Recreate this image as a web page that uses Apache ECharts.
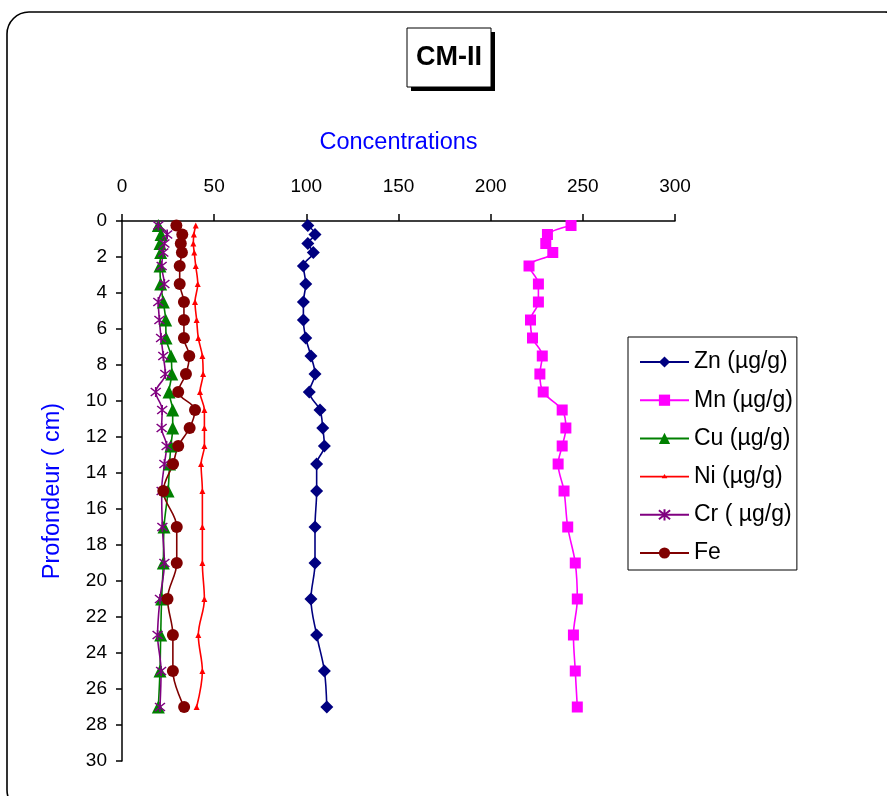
<!DOCTYPE html>
<html>
<head>
<meta charset="utf-8">
<script src="https://cdn.jsdelivr.net/npm/echarts@6/dist/echarts.min.js"></script>
<style>html,body{margin:0;padding:0;background:#fff;}#c{width:887px;height:796px;}</style>
</head>
<body>
<div id="c"></div>
<script>
const depth = [0.25, 0.75, 1.25, 1.75, 2.5, 3.5, 4.5, 5.5, 6.5, 7.5, 8.5, 9.5, 10.5, 11.5, 12.5, 13.5, 15, 17, 19, 21, 23, 25, 27];
const zn = [100.8, 104.7, 100.8, 103.8, 98.4, 99.7, 98.4, 98.4, 99.7, 102.5, 104.7, 101.6, 107.4, 108.9, 109.8, 105.6, 105.6, 104.7, 104.7, 102.5, 105.6, 109.8, 111.1];
const mn = [243.6, 230.8, 229.9, 233.7, 220.8, 225.9, 225.9, 221.6, 222.7, 228.0, 226.7, 228.5, 238.8, 240.8, 238.8, 236.6, 239.8, 241.8, 245.9, 247.0, 244.9, 245.9, 247.0];
const cu = [19.7, 21.2, 20.6, 21.0, 20.6, 21.0, 22.4, 23.7, 23.9, 26.6, 27.0, 25.5, 27.5, 27.5, 26.5, 25.8, 25.0, 22.8, 22.4, 21.5, 21.0, 20.6, 19.7];
const ni = [40.0, 39.0, 38.7, 39.2, 40.0, 41.1, 39.6, 40.5, 41.4, 43.6, 44.0, 42.3, 44.7, 44.7, 44.7, 42.9, 43.6, 43.6, 43.6, 44.7, 41.4, 43.6, 40.5];
const cr = [19.7, 24.5, 23.0, 22.4, 21.5, 23.0, 19.7, 20.3, 21.2, 22.4, 23.5, 18.3, 21.8, 21.5, 24.2, 23.0, 21.5, 21.9, 23.0, 20.6, 19.3, 21.2, 20.6];
const fe = [29.5, 32.7, 31.9, 32.5, 31.3, 31.3, 33.6, 33.6, 33.6, 36.5, 34.7, 30.5, 39.6, 36.7, 30.5, 27.7, 22.4, 29.7, 29.7, 24.7, 27.6, 27.6, 33.7];
const names = ['Zn (µg/g)', 'Mn (µg/g)', 'Cu (µg/g)', 'Ni (µg/g)', 'Cr ( µg/g)', 'Fe'];

const pair = arr => arr.map((v, i) => [v, depth[i]]);
const FONT = 'Liberation Sans, Arial, sans-serif';
const asterisk = 'path://M5,0L5,10M1,1L9,9M9,1L1,9';
// legend icon for Ni: thin line with a tiny triangle, in a 49x14 box
const niIcon = 'path://M0,0L0.01,0L0,0.01Z M49,14L48.99,14L49,13.99Z M0,6.2L49,6.2L49,7.8L0,7.8Z M24.5,4.3L27.3,8.7L21.7,8.7Z';

function mk(name, arr, color, symbol, size, extra) {
  return Object.assign({
    name: name, type: 'line', data: pair(arr), smooth: 0.35,
    symbol: symbol, symbolSize: size,
    lineStyle: { color: color, width: 1.6 },
    itemStyle: { color: color },
    z: 3
  }, extra || {});
}

const chart = echarts.init(document.getElementById('c'), null, { renderer: 'canvas' });
chart.setOption({
  animation: false,
  backgroundColor: '#fff',
  textStyle: { fontFamily: FONT },
  graphic: [
    { type: 'rect', shape: { x: 7, y: 12, width: 900, height: 800, r: 22 }, style: { fill: 'none', stroke: '#000', lineWidth: 1.6 }, z: 0 },
    { type: 'rect', shape: { x: 411, y: 32, width: 84, height: 59 }, style: { fill: '#000' }, z: 10 },
    { type: 'rect', shape: { x: 407, y: 28, width: 84, height: 59 }, style: { fill: '#fff', stroke: '#000', lineWidth: 1 }, z: 11 },
    { type: 'text', x: 449, y: 58, style: { text: 'CM-II', fontFamily: FONT, fontWeight: 'bold', fontSize: 27, fill: '#000', align: 'center', verticalAlign: 'middle' }, z: 12 }
  ],
  grid: { left: 122, right: 212, top: 221, bottom: 35, containLabel: false },
  legend: {
    orient: 'vertical', left: 628, top: 337,
    data: [
      { name: names[0] }, { name: names[1] }, { name: names[2] },
      { name: names[3], icon: niIcon, itemStyle: { color: '#ff0000' } },
      { name: names[4] }, { name: names[5] }
    ],
    backgroundColor: '#fff', borderColor: '#000', borderWidth: 1,
    padding: [13, 4, 5, 11],
    itemWidth: 49, itemHeight: 14, itemGap: 14.2,
    textStyle: { fontFamily: FONT, fontSize: 23, color: '#000', lineHeight: 24 }
  },
  xAxis: {
    type: 'value', position: 'top', min: 0, max: 300, interval: 50,
    name: 'Concentrations', nameLocation: 'middle', nameGap: 66,
    nameTextStyle: { color: '#0000ff', fontSize: 23.5, fontFamily: FONT },
    axisLine: { show: true, lineStyle: { color: '#000', width: 1.5 } },
    axisTick: { show: true, inside: false, length: 7, lineStyle: { color: '#000', width: 1.5 } },
    axisLabel: { color: '#000', fontSize: 19, fontFamily: FONT, margin: 25 },
    splitLine: { show: false }
  },
  yAxis: {
    type: 'value', inverse: true, min: 0, max: 30, interval: 2,
    name: 'Profondeur ( cm)', nameLocation: 'middle', nameGap: 57, nameRotate: 90,
    nameTextStyle: { color: '#0000ff', fontSize: 23.5, fontFamily: FONT },
    axisLine: { show: true, onZero: false, lineStyle: { color: '#000', width: 1.5 } },
    axisTick: { show: true, inside: false, length: 6, lineStyle: { color: '#000', width: 1.5 } },
    axisLabel: { color: '#000', fontSize: 19, fontFamily: FONT, margin: 15 },
    splitLine: { show: false }
  },
  series: [
    mk(names[0], zn, '#000080', 'diamond', 13),
    mk(names[1], mn, '#ff00ff', 'rect', 11),
    mk(names[2], cu, '#008000', 'triangle', 13),
    mk(names[3], ni, '#ff0000', 'triangle', 6),
    mk(names[4], cr, '#800080', asterisk, 10, { itemStyle: { color: '#800080', borderColor: '#800080', borderWidth: 1.6 } }),
    mk(names[5], fe, '#800000', 'circle', 12)
  ]
});
</script>
</body>
</html>
